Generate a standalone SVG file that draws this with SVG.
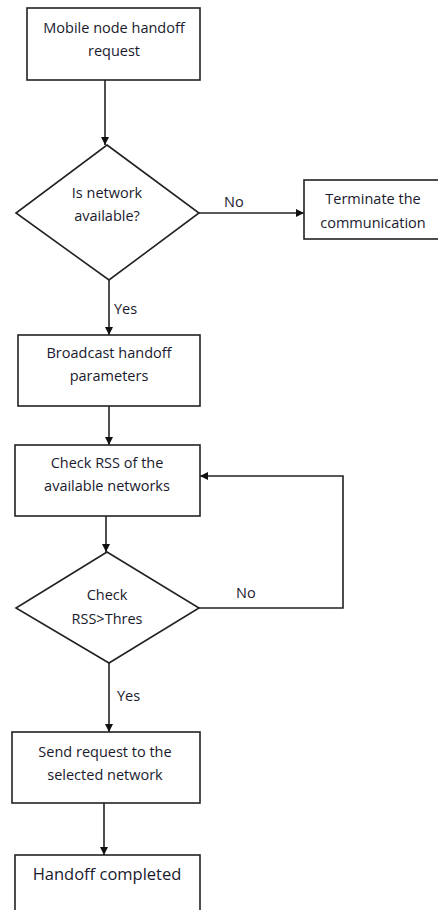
<svg xmlns="http://www.w3.org/2000/svg" width="438" height="910" viewBox="0 0 438 910">
<defs>
<marker id="ah" markerWidth="8" markerHeight="8" refX="8" refY="4" orient="auto" markerUnits="userSpaceOnUse">
<path d="M0,0 L8,4 L0,8 Z" fill="#111"/>
</marker>
<style>
.box{fill:#fff;stroke:#222;stroke-width:1.6}
.ln{fill:none;stroke:#222;stroke-width:1.6}
.t{font-family:"Open Sans","Noto Sans",sans-serif;font-size:14.5px;fill:#1a1a2e;text-anchor:middle;dominant-baseline:central}
.lb{font-family:"Open Sans","Noto Sans",sans-serif;font-size:14.5px;fill:#1a1a2e;dominant-baseline:central}
</style>
</defs>
<rect width="438" height="910" fill="#fff"/>
<g id="connectors">
<line class="ln" x1="105" y1="80" x2="105" y2="145" marker-end="url(#ah)"/>
<line class="ln" x1="199" y1="213" x2="304" y2="213" marker-end="url(#ah)"/>
<line class="ln" x1="109" y1="280" x2="109" y2="335" marker-end="url(#ah)"/>
<line class="ln" x1="109" y1="406" x2="109" y2="445" marker-end="url(#ah)"/>
<line class="ln" x1="106" y1="516" x2="106" y2="552" marker-end="url(#ah)"/>
<polyline class="ln" points="199,608 343,608 343,476 200,476" marker-end="url(#ah)"/>
<line class="ln" x1="109" y1="663" x2="109" y2="732" marker-end="url(#ah)"/>
<line class="ln" x1="104" y1="803" x2="104" y2="855" marker-end="url(#ah)"/>
<text class="lb" x="224" y="201">No</text>
<text class="lb" x="114" y="308">Yes</text>
<text class="lb" x="236" y="592">No</text>
<text class="lb" x="117" y="695">Yes</text>
</g>
<g id="n1">
<rect class="box" x="27" y="8" width="173" height="72"/>
<text class="t" x="114" y="27">Mobile node handoff</text>
<text class="t" x="114" y="50">request</text>
</g>
<g id="d1">
<polygon class="box" points="107,145 199,213 109,280 16,213"/>
<text class="t" x="107" y="192">Is network</text>
<text class="t" x="107" y="215">available?</text>
</g>
<g id="n2">
<rect class="box" x="304" y="180" width="140" height="59"/>
<text class="t" x="373" y="198">Terminate the</text>
<text class="t" x="373" y="222">communication</text>
</g>
<g id="n3">
<rect class="box" x="18" y="335" width="182" height="71"/>
<text class="t" x="109" y="352">Broadcast handoff</text>
<text class="t" x="109" y="375">parameters</text>
</g>
<g id="n4">
<rect class="box" x="15" y="445" width="185" height="71"/>
<text class="t" x="107" y="462">Check RSS of the</text>
<text class="t" x="107" y="485">available networks</text>
</g>
<g id="d2">
<polygon class="box" points="107,552 199,608 109,663 16,608"/>
<text class="t" x="107" y="594">Check</text>
<text class="t" x="107" y="618">RSS&gt;Thres</text>
</g>
<g id="n5">
<rect class="box" x="12" y="732" width="188" height="71"/>
<text class="t" x="105" y="751">Send request to the</text>
<text class="t" x="105" y="774">selected network</text>
</g>
<g id="n6">
<rect class="box" x="15" y="855" width="185" height="70"/>
<text class="t" x="107" y="873" style="font-size:16.5px">Handoff completed</text>
</g>
</svg>
